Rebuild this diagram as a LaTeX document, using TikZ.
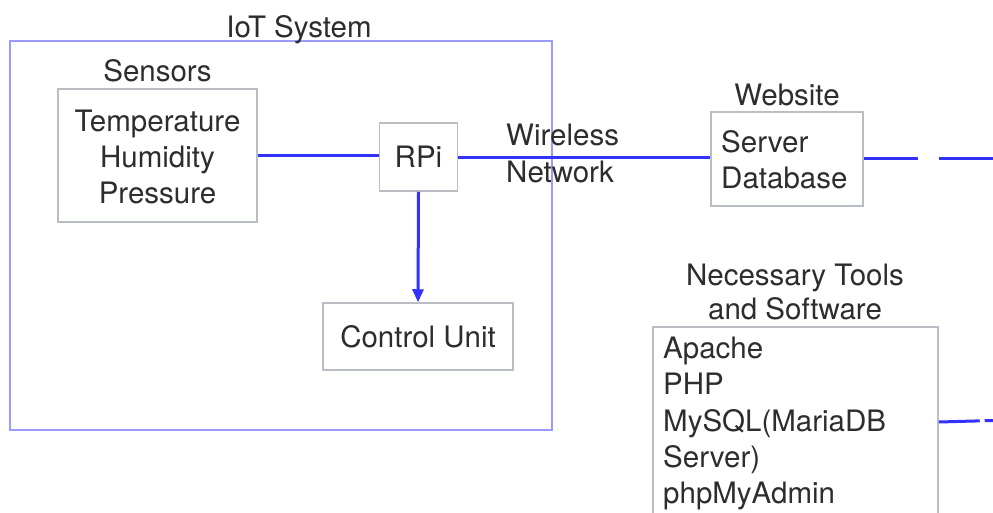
\documentclass[tikz,border=0pt]{standalone}
\usepackage{fontspec}
\setmainfont{TeX Gyre Heros}
\usetikzlibrary{arrows.meta}

\definecolor{txt}{RGB}{45,45,45}
\definecolor{boxgray}{RGB}{185,190,196}
\definecolor{sysblue}{RGB}{155,155,255}
\definecolor{linkblue}{RGB}{50,50,255}

\tikzset{
  lbl/.style={font=\fontsize{29.5}{35.5}\selectfont, text=txt, inner sep=0pt},
  box/.style={draw=boxgray, line width=1.5pt, inner sep=0pt, fill=white},
  sysbox/.style={draw=sysblue, line width=2pt, inner sep=0pt},
  link/.style={draw=linkblue, line width=3pt},
}

\begin{document}
\begin{tikzpicture}[x=1pt,y=-1pt]
  \useasboundingbox (0,0) rectangle (993,512);
  \clip (0,0) rectangle (993,512);
  \fill[white] (0,0) rectangle (993,512);

  % IoT system frame
  \node[sysbox, minimum width=542pt, minimum height=389pt] (iot) at (281,235.5) {};
  \node[lbl, anchor=base] (iotlbl) at (299,37) {IoT System};

  % sensors
  \node[lbl, anchor=base] (senslbl) at (157.5,81) {Sensors};
  \node[box, minimum width=199pt, minimum height=133pt] (sens) at (157.5,155.5) {};
  \node[lbl, anchor=north, align=center, font=\fontsize{29.5}{36}\selectfont]
    (senstxt) at (157.5,109.5) {Temperature\\Humidity\\Pressure};

  % Raspberry Pi and control unit
  \node[box, minimum width=78pt, minimum height=68pt] (rpi) at (418.5,157) {};
  \node[lbl] (rpitxt) at (rpi.center) {RPi};
  \node[box, minimum width=190pt, minimum height=67pt] (ctrl) at (418,336.5) {};
  \node[lbl] (ctrltxt) at (ctrl.center) {Control Unit};

  % website
  \node[lbl, anchor=base] (weblbl) at (787,105) {Website};
  \node[box, minimum width=152pt, minimum height=94pt] (srv) at (787,159) {};
  \node[lbl, anchor=north west, align=left] (srvtxt) at (721,130.5)
    {Server\\Database};

  % network label
  \node[lbl, anchor=north west, align=left, font=\fontsize{29.5}{37.5}\selectfont]
    (net) at (506,123.5) {Wireless\\Network};

  % tools
  \node[lbl, anchor=north, align=center, font=\fontsize{29.5}{34}\selectfont]
    (toolslbl) at (795,263.5) {Necessary Tools\\and Software};
  \node[box, minimum width=285pt, minimum height=220pt] (tools) at (795.5,437) {};
  \node[lbl, anchor=north west, align=left,
        font=\fontsize{29.5}{36.4}\selectfont] (toolstxt) at (663,336.5)
    {Apache\\PHP\\MySQL(MariaDB\\Server)\\phpMyAdmin};

  % connectors
  \coordinate (srvout) at (993,158);
  \coordinate (toolsout) at (993,420.5);
  \draw[link] (sens.east) -- (sens.east -| rpi.west);
  \draw[link] (rpi.east) -- (rpi.east -| srv.west);
  \draw[link, -{Triangle[length=13pt,width=11pt]}] (rpi.south) -- (ctrl.north);
  \draw[link, dash pattern=on 54pt off 21pt] (srv.east |- srvout) -- (srvout);
  \draw[link, dash pattern=on 41pt off 5pt] (tools.east |- toolsout) ++(0,1.5) -- (toolsout);
\end{tikzpicture}
\end{document}
